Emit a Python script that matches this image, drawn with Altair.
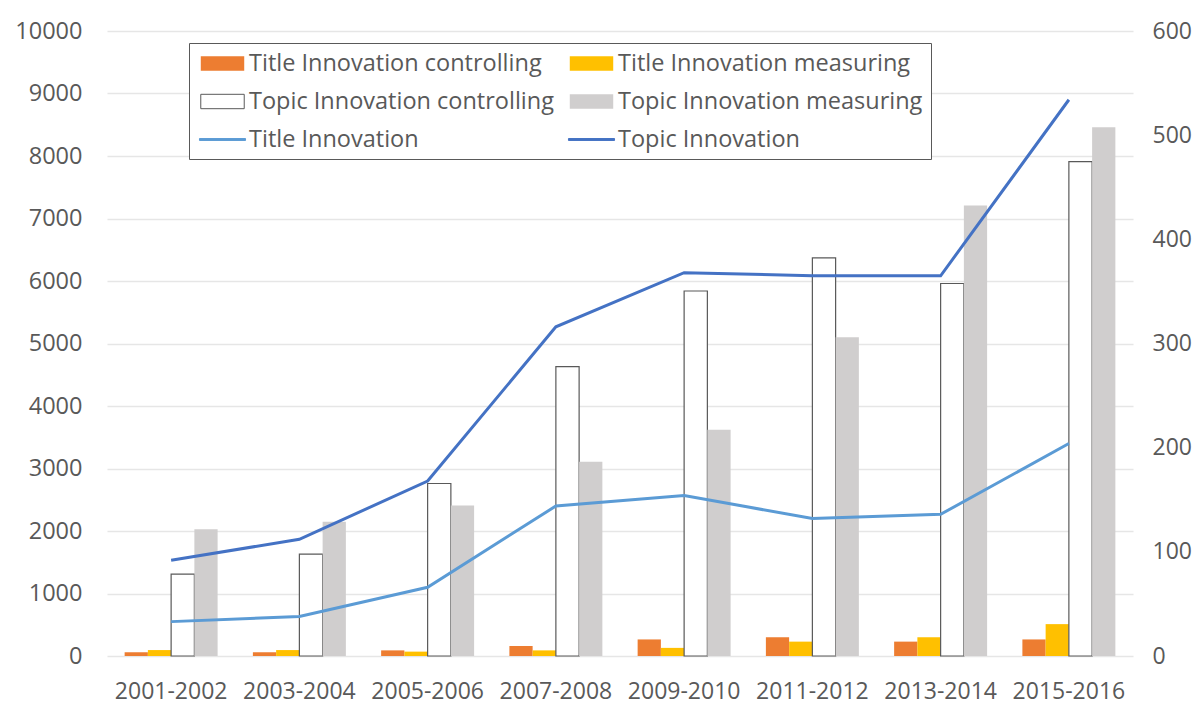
import altair as alt
import pandas as pd

periods = ["2001-2002", "2003-2004", "2005-2006", "2007-2008",
           "2009-2010", "2011-2012", "2013-2014", "2015-2016"]

# bar series (left axis)
title_controlling = [60, 60, 90, 160, 265, 300, 230, 265]
title_measuring = [95, 95, 70, 90, 130, 230, 300, 510]
topic_controlling = [1310, 1630, 2760, 4630, 5840, 6370, 5960, 7910]
topic_measuring = [2030, 2150, 2410, 3110, 3620, 5100, 7210, 8460]

# line series (right axis)
title_innovation = [33, 38, 66, 144, 154, 132, 136, 204]
topic_innovation = [92, 112, 168, 316, 368, 365, 365, 534]

bar_names = ["Title Innovation controlling", "Title Innovation measuring",
             "Topic Innovation controlling", "Topic Innovation measuring"]
line_names = ["Title Innovation", "Topic Innovation"]

# legend order (filled column by column: left column, then right column)
legend_names = ["Title Innovation controlling", "Topic Innovation controlling", "Title Innovation",
                "Title Innovation measuring", "Topic Innovation measuring", "Topic Innovation"]

bar_path = "M-1.81,-0.6H1.81V0.6H-1.81Z"
line_path = "M-1.92,-0.08H1.92V0.08H-1.92Z"
style = {
    "Title Innovation controlling": ("#ED7D31", "transparent", bar_path),
    "Title Innovation measuring": ("#FFC000", "transparent", bar_path),
    "Topic Innovation controlling": ("#FFFFFF", "#595959", bar_path),
    "Topic Innovation measuring": ("#D0CECE", "transparent", bar_path),
    "Title Innovation": ("#5B9BD5", "#5B9BD5", line_path),
    "Topic Innovation": ("#4472C4", "#4472C4", line_path),
}
fill_colors = [style[n][0] for n in legend_names]
stroke_colors = [style[n][1] for n in legend_names]
legend_shapes = [style[n][2] for n in legend_names]

bar_rows = []
for name, vals in zip(bar_names, [title_controlling, title_measuring,
                                  topic_controlling, topic_measuring]):
    for p, v in zip(periods, vals):
        bar_rows.append({"period": p, "series": name, "value": v})
bars_df = pd.DataFrame(bar_rows)

line_rows = []
for name, vals in zip(line_names, [title_innovation, topic_innovation]):
    for p, v in zip(periods, vals):
        line_rows.append({"period": p, "series": name, "value": v})
lines_df = pd.DataFrame(line_rows)

FONT = "Open Sans"
TXT = "#595959"


def make_legend():
    return alt.Legend(
        title=None,
        orient="none",
        legendX=82,
        legendY=12,
        columns=2,
        columnPadding=12,
        rowPadding=14,
        padding=8,
        symbolSize=576,
        symbolOffset=13,
        symbolStrokeWidth=1,
        labelOffset=14,
        labelFont=FONT,
        labelFontSize=23.5,
        labelColor=TXT,
        labelLimit=500,
        strokeColor="#595959",
        fillColor="#FFFFFF",
    )


fill_scale = alt.Scale(domain=legend_names, range=fill_colors)
stroke_scale = alt.Scale(domain=legend_names, range=stroke_colors)
shape_scale = alt.Scale(domain=legend_names, range=legend_shapes)

x_enc = alt.X(
    "period:N", sort=periods,
    scale=alt.Scale(paddingInner=0.275, paddingOuter=0.1375),
    axis=alt.Axis(title=None, labelAngle=0, labelFont=FONT, labelFontSize=23,
                  labelColor=TXT, labelPadding=24, ticks=False, domain=False, grid=False),
)

bars = alt.Chart(bars_df).mark_bar(strokeWidth=1.2, fillOpacity=1).encode(
    x=x_enc,
    xOffset=alt.XOffset("series:N", sort=bar_names,
                        scale=alt.Scale(paddingInner=0, paddingOuter=0)),
    y=alt.Y("value:Q", scale=alt.Scale(domain=[0, 10000], nice=False),
            axis=alt.Axis(title=None, values=list(range(0, 10001, 1000)), format="d",
                          labelFont=FONT, labelFontSize=23.5, labelColor=TXT,
                          labelPadding=25, ticks=False, domain=False,
                          grid=True, gridColor="#E6E6E6", gridWidth=1.3)),
    fill=alt.Fill("series:N", scale=fill_scale, legend=make_legend()),
    stroke=alt.Stroke("series:N", scale=stroke_scale, legend=make_legend()),
)

lines = alt.Chart(lines_df).mark_line(strokeWidth=3).encode(
    x=alt.X("period:N", sort=periods),
    y=alt.Y("value:Q", scale=alt.Scale(domain=[0, 600], nice=False),
            axis=alt.Axis(title=None, orient="right", values=list(range(0, 601, 100)),
                          format="d", labelFont=FONT, labelFontSize=23, labelColor=TXT,
                          labelPadding=19, ticks=False, domain=False, grid=False)),
    stroke=alt.Stroke("series:N", scale=stroke_scale, legend=make_legend()),
)

# empty point layer that only supplies legend symbol shapes
shapes = alt.Chart(lines_df).transform_filter("false").mark_point().encode(
    x=alt.X("period:N", sort=periods),
    y=alt.Y("value:Q", axis=None),
    shape=alt.Shape("series:N", scale=shape_scale, legend=make_legend()),
)

chart = alt.layer(bars, lines, shapes).resolve_scale(y="independent").properties(
    width=1026,
    height=625,
    autosize=alt.AutoSizeParams(type="none"),
    padding={"left": 99, "top": 23, "right": 60, "bottom": 50},
    background="#FFFFFF",
).configure_view(stroke=None)

chart.save("out.html", embed_options={"renderer": "svg", "actions": False})
